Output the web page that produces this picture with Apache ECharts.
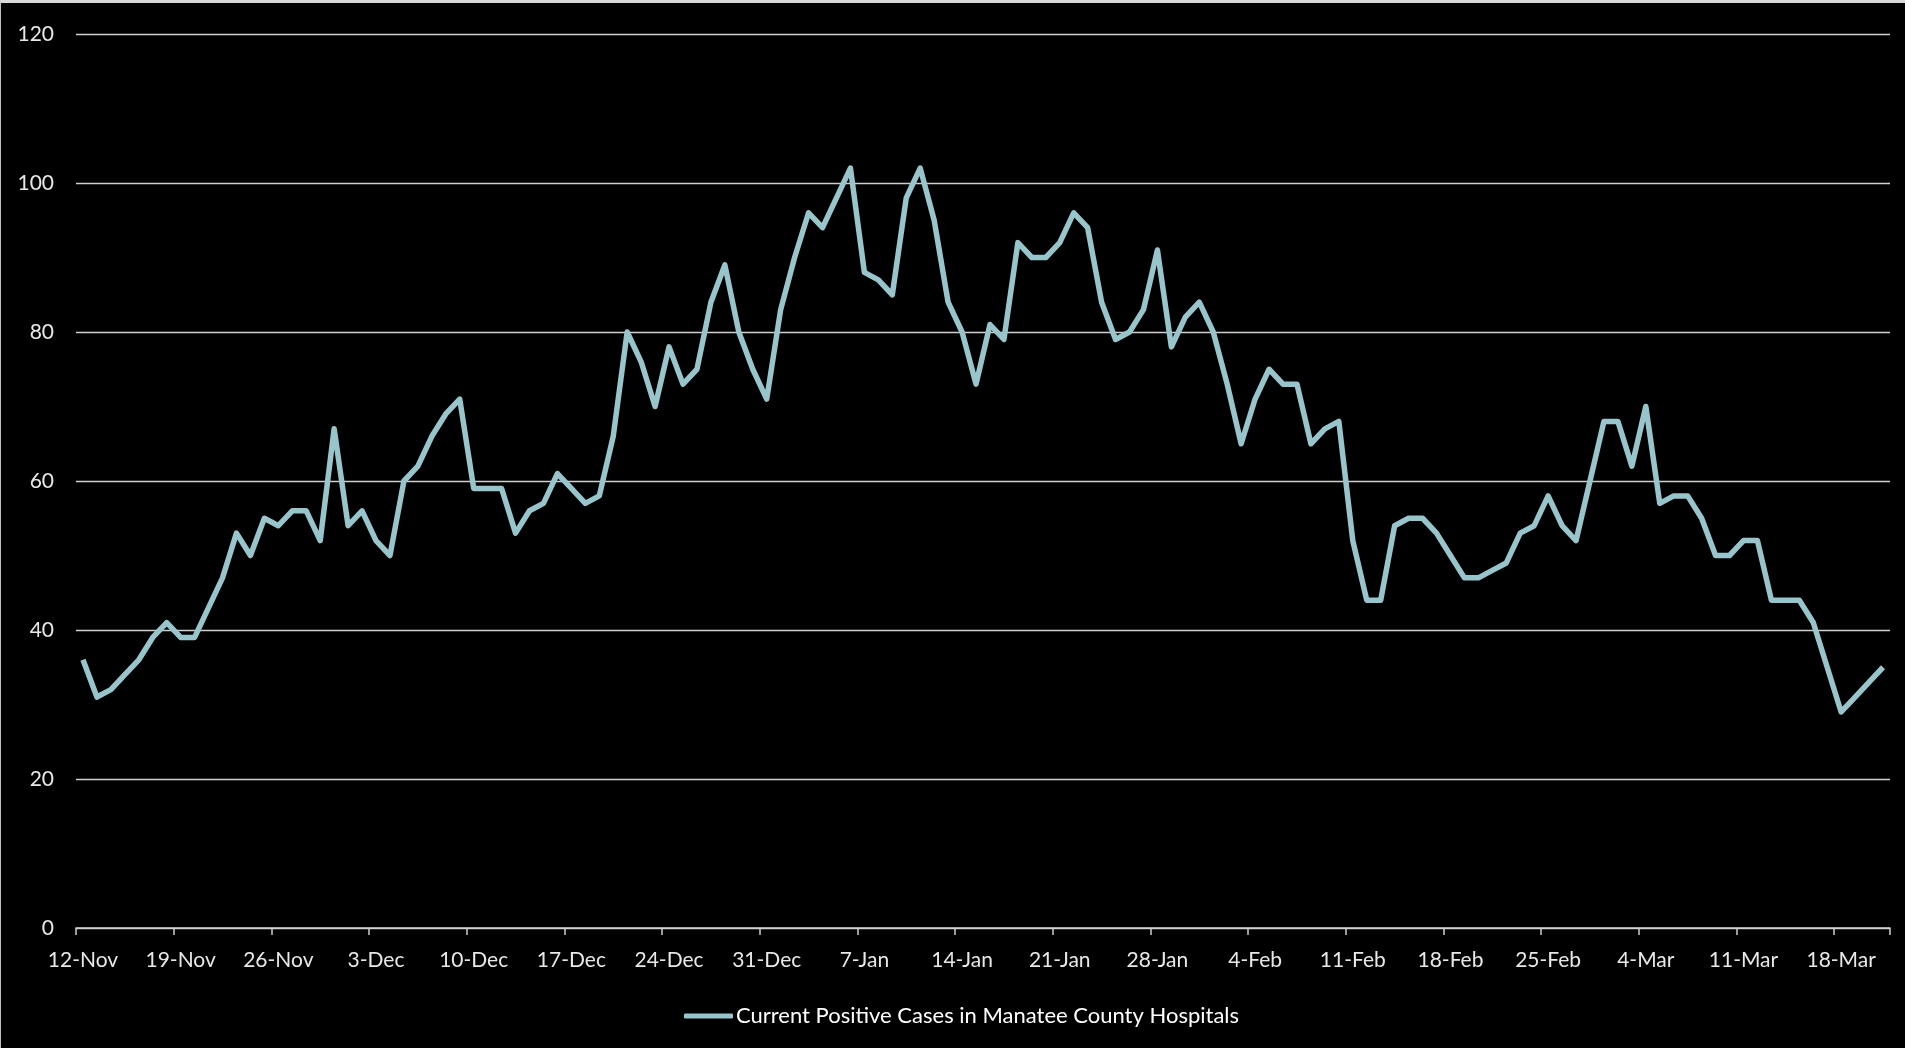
<!DOCTYPE html>
<html>
<head>
<meta charset="utf-8">
<style>
  html, body { margin: 0; padding: 0; background: #000; }
  #chart { width: 1905px; height: 1048px; box-sizing: border-box; border-top: 3px solid #d9d9d9; border-left: 1px solid #bfbfbf; }
</style>
<script src="https://cdn.jsdelivr.net/npm/echarts@6/dist/echarts.min.js"></script>
</head>
<body>
<div id="chart"></div>
<script>
// Date range: 12-Nov to 21-Mar (daily)
const monthNames = ['Nov', 'Dec', 'Jan', 'Feb', 'Mar'];
const monthStartDay = [12, 1, 1, 1, 1];
const monthEndDay = [30, 31, 31, 28, 21];

const novValues = [36,31,32,34,36,39,41,39,39,43,47,53,50,55,54,56,56,52,67];
const decValues = [54,56,52,50,60,62,66,69,71,59,59,59,53,56,57,61,59,57,58,66,80,76,70,78,73,75,84,89,80,75,71];
const janValues = [83,90,96,94,98,102,88,87,85,98,102,95,84,80,73,81,79,92,90,90,92,96,94,84,79,80,83,91,78,82,84];
const febValues = [80,73,65,71,75,73,73,65,67,68,52,44,44,54,55,55,53,50,47,47,48,49,53,54,58,54,52,60];
const marValues = [68,68,62,70,57,58,58,55,50,50,52,52,44,44,44,41,35,29,31,33,35];

const seriesName = 'Current Positive Cases in Manatee County Hospitals';
const yTicks = [0, 20, 40, 60, 80, 100, 120];

const categories = [];
monthNames.forEach((m, i) => {
  for (let d = monthStartDay[i]; d <= monthEndDay[i]; d++) categories.push(d + '-' + m);
});
const values = [].concat(novValues, decValues, janValues, febValues, marValues);

const chart = echarts.init(document.getElementById('chart'));
const labelFont = 'Lato';
chart.setOption({
  backgroundColor: '#000',
  animation: false,
  grid: { left: 75, right: 15, top: 31, bottom: 120, containLabel: false },
  legend: {
    show: true,
    left: 678,
    top: 997,
    icon: 'roundRect',
    itemWidth: 49,
    itemHeight: 5,
    textStyle: { color: '#ffffff', fontSize: 22, fontFamily: labelFont, padding: [0, 0, 0, -2] },
    data: [seriesName]
  },
  xAxis: {
    type: 'category',
    data: categories,
    boundaryGap: true,
    axisLine: { show: true, lineStyle: { color: '#d0d0d0', width: 1.5 } },
    axisTick: { show: true, interval: 6, length: 7, lineStyle: { color: '#d0d0d0', width: 1.5 } },
    axisLabel: { interval: 6, color: '#e8e8e8', fontSize: 21, fontFamily: labelFont, margin: 22 },
    splitLine: { show: false }
  },
  yAxis: {
    type: 'value',
    min: yTicks[0],
    max: yTicks[yTicks.length - 1],
    interval: 20,
    axisLine: { show: false },
    axisTick: { show: false },
    axisLabel: { color: '#e8e8e8', fontSize: 21, fontFamily: labelFont, margin: 22 },
    splitLine: { show: true, lineStyle: { color: '#d0d0d0', width: 1.3 } }
  },
  series: [{
    name: seriesName,
    type: 'line',
    data: values,
    showSymbol: false,
    symbol: 'none',
    lineStyle: { color: '#97c5cb', width: 5.5, join: 'round' },
    itemStyle: { color: '#97c5cb' }
  }]
});
</script>
</body>
</html>
